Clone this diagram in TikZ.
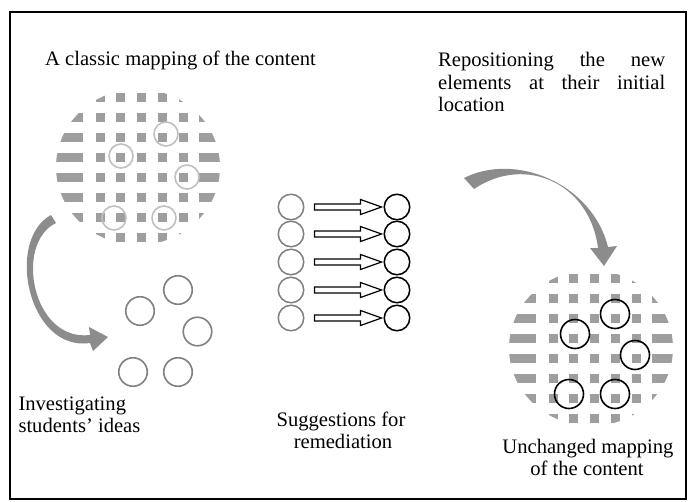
\documentclass[tikz,border=0pt]{standalone}
\usepackage{fontspec}
\setmainfont{Liberation Serif}
\usetikzlibrary{calc}
\definecolor{patgray}{RGB}{158,158,158}
\definecolor{circgray}{RGB}{128,128,128}
\definecolor{lightcirc}{RGB}{192,192,192}
\definecolor{arrowgray}{RGB}{140,140,140}
\tikzset{
  lbl/.style={inner sep=0pt, font={\fontsize{20.6pt}{22pt}\selectfont}},
  ring/.style={circle, inner sep=0pt, fill=none},
  lightring/.style={ring, draw=lightcirc, line width=1.6pt, minimum size=24pt},
  blackring/.style={ring, draw=black, line width=1.6pt, minimum size=29pt},
  invring/.style={ring, draw=circgray, line width=1.6pt, minimum size=28.5pt},
  midgray/.style={ring, draw=circgray, line width=1.5pt, minimum size=25.5pt},
  midblack/.style={ring, draw=black, line width=1.5pt, minimum size=25.5pt},
  hollowarrow/.style={draw=black, fill=white, line width=1.2pt, line join=miter},
  curvedarrow/.style={fill=arrowgray},
  frame/.style={draw=black, line width=1.2pt}
}
\newcommand{\mapdisc}[2]{%
  \begin{scope}[shift={(#1,#2)}]
    \clip (38,70) ellipse [x radius=82pt, y radius=78pt];
    \foreach \r in {0,...,7} {
      \foreach \c in {0,...,4} {
        \fill[patgray] ({\c*20.75-4.5},{\r*20-4.5}) rectangle ++(9,9);
      }
      \fill[patgray] (-60,{\r*20-4.5}) rectangle (-17,{\r*20+4.5});
      \fill[patgray] (99,{\r*20-4.5}) rectangle (140,{\r*20+4.5});
    }
  \end{scope}%
}
\begin{document}
\begin{tikzpicture}[x=1pt, y=-1pt]
\useasboundingbox (0,0) rectangle (688,501);
\draw[frame] (10,12) rectangle (686,499);

% left disc (classic mapping)
\mapdisc{100}{97}
\node[lightring] (l1) at (166,134) {};
\node[lightring] (l2) at (121,156) {};
\node[lightring] (l3) at (187,177) {};
\node[lightring] (l4) at (114,218) {};
\node[lightring] (l5) at (164,218) {};

% right disc (unchanged mapping)
\mapdisc{553}{278}
\node[blackring] (r1) at (615,314) {};
\node[blackring] (r2) at (575,334) {};
\node[blackring] (r3) at (635,355) {};
\node[blackring] (r4) at (569,394) {};
\node[blackring] (r5) at (615,394) {};

% students' ideas circles
\node[invring] (i1) at (178,290) {};
\node[invring] (i2) at (140,311) {};
\node[invring] (i3) at (197.5,331.5) {};
\node[invring] (i4) at (133,372) {};
\node[invring] (i5) at (178,372) {};

% left curved arrow
\fill[curvedarrow] (51,215) .. controls (5,240) and (28,352) .. (90,343)
  -- (93,351) -- (108,337) -- (89,327) -- (90,335)
  .. controls (32,342) and (14,243) .. (56,223) -- cycle;

% right curved arrow
\fill[curvedarrow] (464,178) .. controls (515,152) and (592,183) .. (608,247)
  -- (617,246) -- (604,266) -- (590,248) -- (598,248)
  .. controls (590,184) and (526,154) .. (474,189) -- cycle;

% suggestions for remediation
\foreach \i/\y in {1/207,2/234,3/262,4/290,5/318} {
  \node[midgray] (g\i) at (291,\y) {};
  \node[midblack] (b\i) at (397,\y) {};
  \draw[hollowarrow] ($(g\i.east)+(10,-3)$) -- ($(b\i.west)+(-23,-3)$)
    -- ($(b\i.west)+(-23,-7.5)$) -- ($(b\i.west)+(-2,0)$)
    -- ($(b\i.west)+(-23,7.5)$) -- ($(b\i.west)+(-23,3)$)
    -- ($(g\i.east)+(10,3)$) -- cycle;
}

% texts
\node[lbl, anchor=base west] (t1) at (45,65) {A classic mapping of the content};
\node[lbl, anchor=base west] (t2a) at (438,66.7) {\hbox to 227pt{Repositioning\hfill the\hfill new}};
\node[lbl, anchor=base west] (t2b) at (438,89) {\hbox to 227pt{elements\hfill at\hfill their\hfill initial}};
\node[lbl, anchor=base west] (t2c) at (438,111.7) {location};
\node[lbl, anchor=base west] (t3a) at (18.3,410.7) {Investigating};
\node[lbl, anchor=base west] (t3b) at (18.3,432.7) {students’ ideas};
\node[lbl, anchor=base] (t4a) at (341,426.7) {Suggestions for};
\node[lbl, anchor=base] (t4b) at (343,448.3) {remediation};
\node[lbl, anchor=base] (t5a) at (588,453) {Unchanged mapping};
\node[lbl, anchor=base] (t5b) at (587,475) {of the content};
\end{tikzpicture}
\end{document}
